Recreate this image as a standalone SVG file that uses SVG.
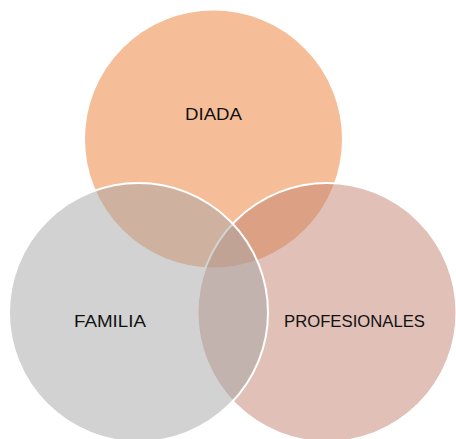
<svg xmlns="http://www.w3.org/2000/svg" width="456" height="439" viewBox="0 0 456 439">
  <style>
    .c { stroke: #FFFFFF; stroke-width: 2; fill-opacity: 0.5; }
    .t { font-family: "Liberation Sans", Arial, sans-serif; font-size: 17px; fill: #111111; text-anchor: middle; }
  </style>
  <rect x="0" y="0" width="456" height="439" fill="#FFFFFF"/>
  <g id="node-diada">
    <circle class="c" cx="213.5" cy="139" r="129.5" fill="#ED7D31"/>
  </g>
  <g id="node-profesionales">
    <circle class="c" cx="327" cy="312.5" r="129.5" fill="#C1816F"/>
  </g>
  <g id="node-familia">
    <circle class="c" cx="138.5" cy="312.5" r="129.5" fill="#A5A5A5"/>
  </g>
  <g id="labels">
    <text class="t" x="213.5" y="120" textLength="57" lengthAdjust="spacingAndGlyphs">DIADA</text>
    <text class="t" x="110" y="327" textLength="72" lengthAdjust="spacingAndGlyphs">FAMILIA</text>
    <text class="t" x="354.5" y="327" textLength="141" lengthAdjust="spacingAndGlyphs">PROFESIONALES</text>
  </g>
  <g id="connectors"></g>
</svg>
